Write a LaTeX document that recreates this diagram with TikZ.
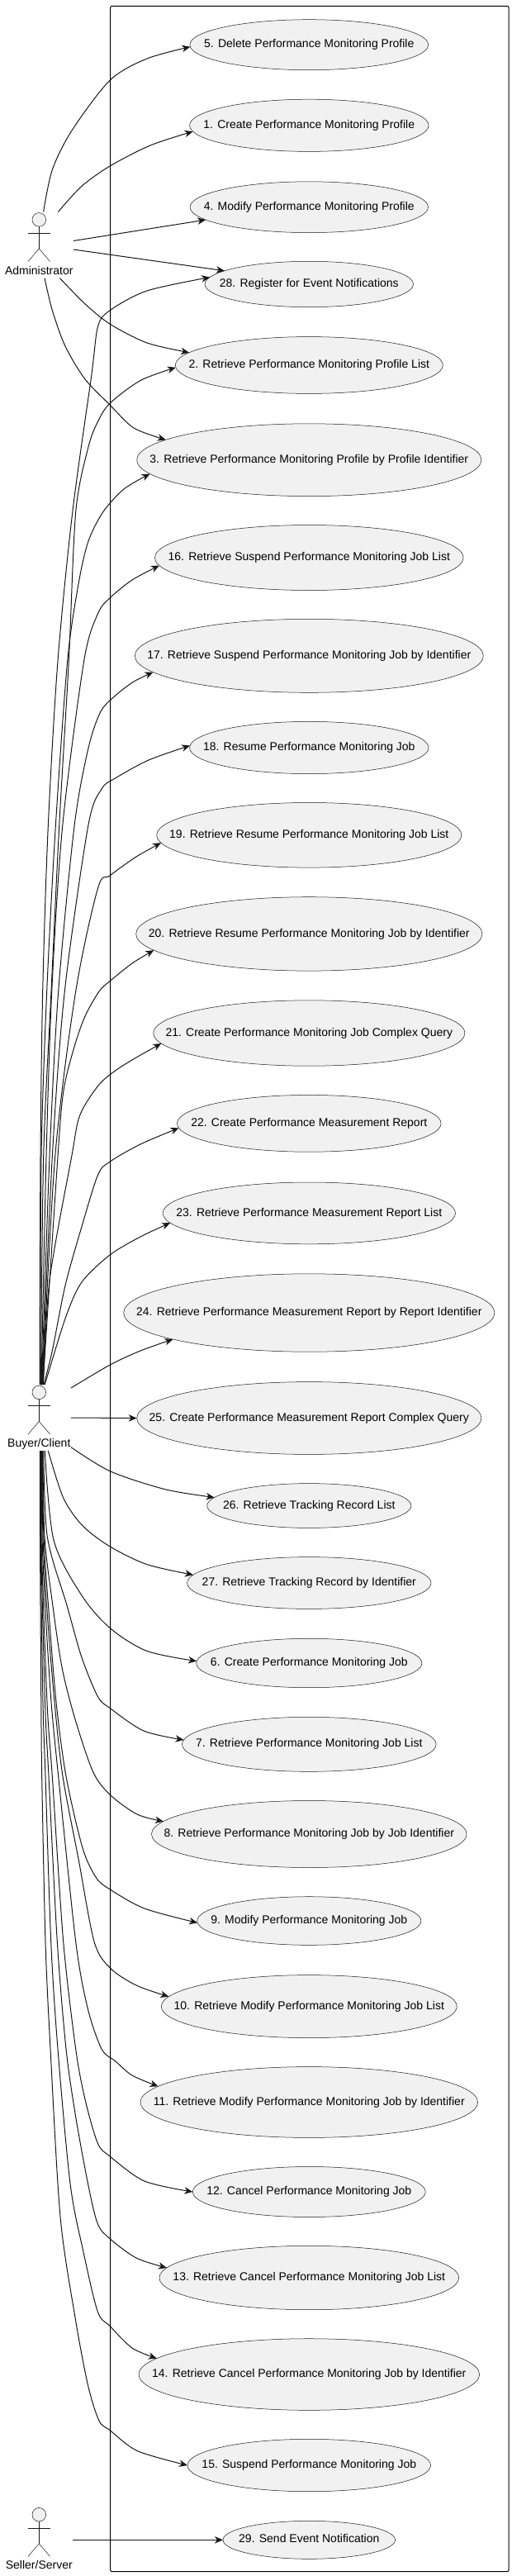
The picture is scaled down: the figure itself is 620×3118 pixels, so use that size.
\documentclass[tikz,border=0pt]{standalone}
\usepackage{fontspec}
\setmainfont{Liberation Sans}[Ligatures=NoCommon]
\usetikzlibrary{shapes.geometric,arrows.meta}
\definecolor{ufill}{HTML}{F1F1F1}
\definecolor{uline}{HTML}{181818}
\tikzset{
  usecase/.style={ellipse,draw=uline,fill=ufill,line width=0.5pt,inner sep=0pt,outer sep=0pt,text=black},
  sysbox/.style={draw=black,line width=1pt,rounded corners=2pt,inner sep=0pt,outer sep=0pt},
  actorbox/.style={inner sep=0pt,outer sep=0pt,minimum height=80pt},
  actorhead/.style={circle,draw=uline,fill=ufill,line width=0.5pt,minimum size=16.6pt,inner sep=0pt,outer sep=0pt},
  actorname/.style={inner sep=0pt,text=black},
  stick/.style={draw=uline,line width=0.5pt},
  conn/.style={draw=uline,line width=1pt,-{Stealth[length=10pt,width=8.5pt,inset=3pt]}},
  curvy/.style={smooth,tension=0.5},
}
\newcommand{\actorfig}[4]{%
  \node[actorbox,minimum width=#4pt] (#1) at (47.3,#3) {};
  \node[actorhead] (#1-head) at ([yshift=30.6pt]#1.center) {};
  \node[actorname] (#1-name) at ([yshift=-32pt]#1.center) {#2\vphantom{Ag}};
  \coordinate (#1-waist) at ([yshift=-4.5pt]#1.center);
  \draw[stick] (#1-head.south) -- (#1-waist);
  \draw[stick] ([xshift=-13.3pt,yshift=14.4pt]#1.center) -- ([xshift=13.3pt,yshift=14.4pt]#1.center);
  \draw[stick] ([xshift=-13.3pt,yshift=-20pt]#1.center) -- (#1-waist) -- ([xshift=13.3pt,yshift=-20pt]#1.center);
}
\begin{document}
\begin{tikzpicture}[x=1pt,y=-1pt,every node/.style={font=\fontsize{14}{16}\selectfont}]
\useasboundingbox (0,0) rectangle (620,3118);
\fill[white] (0,0) rectangle (620,3118);
\node[sysbox,minimum width=482.3pt,minimum height=3105.4pt] (system) at (374.85,1560) {};
\foreach \n/\txt/\rx/\ry/\cy in {
 5/5. Delete Performance Monitoring Profile/144.4/30.5/54.2,
 1/1. Create Performance Monitoring Profile/144.7/31.6/151.8,
 4/4. Modify Performance Monitoring Profile/144.2/30.9/250.7,
 28/28. Register for Event Notifications/126.2/27.7/344,
 2/2. Retrieve Performance Monitoring Profile List/162/34.4/442,
 3/3. Retrieve Performance Monitoring Profile by Profile Identifier/208.6/43.9/556.7,
 16/16. Retrieve Suspend Performance Monitoring Job List/186.8/39.5/675,
 17/17. Retrieve Suspend Performance Monitoring Job by Identifier/211/44.5/793.8,
 18/18. Resume Performance Monitoring Job/144.7/31.6/905,
 19/19. Retrieve Resume Performance Monitoring Job List/184.6/39.3/1010.8,
 20/20. Retrieve Resume Performance Monitoring Job by Identifier/209.6/44.7/1130.4,
 21/21. Create Performance Monitoring Job Complex Query/188.6/39.7/1250.5,
 22/22. Create Performance Measurement Report/159.8/34.4/1359.8,
 23/23. Retrieve Performance Measurement Report List/177.2/37.4/1468.4,
 24/24. Retrieve Performance Measurement Report by Report Identifier/224.6/47.2/1589,
 25/25. Create Performance Measurement Report Complex Query/208.6/43.9/1716.5,
 26/26. Retrieve Tracking Record List/123.6/26.9/1822.5,
 27/27. Retrieve Tracking Record by Identifier/147.7/31.4/1916,
 6/6. Create Performance Monitoring Job/136.6/29.7/2013,
 7/7. Retrieve Performance Monitoring Job List/153.8/33/2111.3,
 8/8. Retrieve Performance Monitoring Job by Job Identifier/190.8/40.5/2220,
 9/9. Modify Performance Monitoring Job/135.6/29.3/2325,
 10/10. Retrieve Modify Performance Monitoring Job List/179/38/2428.6,
 11/11. Retrieve Modify Performance Monitoring Job by Identifier/204.3/42.9/2544.5,
 12/12. Cancel Performance Monitoring Job/141/30.5/2653,
 13/13. Retrieve Cancel Performance Monitoring Job List/181.4/38.7/2757,
 14/14. Retrieve Cancel Performance Monitoring Job by Identifier/206.3/43.3/2874,
 15/15. Suspend Performance Monitoring Job/147.3/31.7/2984,
 29/29. Send Event Notification/104.3/23/3074.3}{
  \node[usecase,minimum width={2*\rx*1pt},minimum height={2*\ry*1pt}] (e\n) at (374.3,\cy) {\makebox[0pt]{\txt\vphantom{Ag}}};
}
\actorfig{admin}{Administrator}{296.5}{83.4}
\actorfig{buyer}{Buyer/Client}{1716}{77.4}
\actorfig{seller}{Seller/Server}{3074.3}{81.4}
% Administrator
\draw[conn] plot[curvy] coordinates {([xshift=5.3pt]admin.north) (63.3,205.6) (87,158) (133.3,97) (178,71) (e5.181.7)};
\draw[conn] plot[curvy] coordinates {([xshift=23.1pt]admin.north) (98.9,225.4) (133.3,200.9) (182,176) (e1.183.9)};
\draw[conn] ([yshift=5pt]admin.east) -- (e4.187.8);
\draw[conn] ([yshift=-5.5pt]admin.east) -- (e28.171.9);
\draw[conn] plot[curvy] coordinates {([xshift=25pt]admin.south) (102.8,367.7) (133.3,392.3) (178,415) (e2.174.5)};
\draw[conn] plot[curvy] coordinates {([xshift=6.7pt]admin.south) (63.3,375.6) (79,419) (102.8,458.7) (133.3,490.3) (162,518) (e3.172.7)};
% Buyer, upwards
\draw[conn] plot[curvy] coordinates {([xshift=0.7pt]buyer.north) (49,1400) (51.7,1200) (58.3,1000) (70,800) (87.8,620) (110.7,455) (118.6,395) (133.3,375.6) (178,352) (e28.176.7)};
\draw[conn] plot[curvy] coordinates {([xshift=2.2pt]buyer.north) (52.7,1400) (62,1200) (71.7,1000) (83.3,800) (91.7,620) (106.8,541.7) (118.6,510) (133.3,488) (170,460.6) (e2.181)};
\draw[conn] plot[curvy] coordinates {([xshift=1.5pt]buyer.north) (50,1400) (56.7,1200) (67.3,1000) (81.7,800) (95,707) (106.8,655.6) (124.6,620) (150,592) (e3.185.6)};
\draw[conn] plot[curvy] coordinates {([xshift=2.7pt]buyer.north) (56,1400) (62.7,1200) (75.7,1000) (101.7,800) (118.6,742.6) (133.3,723.6) (160,702) (e16.183.65)};
\draw[conn] plot[curvy] coordinates {([xshift=3.2pt]buyer.north) (60,1400) (70.7,1200) (90,1000) (106.7,906.7) (121.7,861.7) (140,841.7) (162,825) (e17.186)};
\draw[conn] plot[curvy] coordinates {([xshift=3.7pt]buyer.north) (63.3,1400) (78.3,1200) (106.7,1000) (123,955) (140,941.7) (180,920) (e18.179.4)};
\draw[conn] plot[curvy] coordinates {([xshift=4.2pt]buyer.north) (66.7,1400) (91.7,1200) (118.6,1074.7) (133.3,1059.7) (165,1037) (e19.183.8)};
\draw[conn] plot[curvy] coordinates {([xshift=4.7pt]buyer.north) (70,1400) (77,1320) (90,1267) (103,1230) (120,1200) (133.3,1187.4) (160,1166) (e20.186.2)};
\draw[conn] plot[curvy] coordinates {([xshift=5.2pt]buyer.north) (60,1550) (86.7,1400) (96.7,1350) (119,1314) (140,1295.7) (165,1280) (e21.184.5)};
\draw[conn] plot[curvy] coordinates {([xshift=5.7pt]buyer.north) (63.3,1635) (79,1556) (98.9,1485) (118.6,1422) (133.3,1406) (170,1385) (e22.182.1)};
\draw[conn] plot[curvy] coordinates {([xshift=7pt]buyer.north) (79,1596) (98.9,1552) (133.3,1518.8) (170,1497) (e23.184.7)};
\draw[conn] plot[curvy] coordinates {([yshift=36pt]buyer.east) (133.3,1652) (170,1635) (e24.191)};
\draw[conn] (buyer.east) -- (e25.west);
\draw[conn] plot[curvy] coordinates {([yshift=-35.7pt]buyer.east) (133.3,1780.7) (200,1802.7) (e26.175.5)};
% Buyer, downwards
\draw[conn] plot[curvy] coordinates {([xshift=11pt]buyer.south) (76.7,1813) (100,1846.7) (133.3,1872) (178,1893.6) (e27.176.9)};
\draw[conn] plot[curvy] coordinates {([xshift=7pt]buyer.south) (65,1864) (98.9,1931) (133.3,1970.7) (178,1998.4) (e6.179.7)};
\draw[conn] plot[curvy] coordinates {([xshift=5.5pt]buyer.south) (57.3,1860) (81,1943) (98.9,2006) (118.6,2053.8) (133.3,2067.6) (174,2095) (e7.178.8)};
\draw[conn] plot[curvy] coordinates {([xshift=4.5pt]buyer.south) (54,1860) (63.3,1939) (75,2018) (91,2081) (112.7,2144.7) (133.3,2172.4) (166,2196) (e8.175.2)};
\draw[conn] plot[curvy] coordinates {([xshift=4pt]buyer.south) (53,1860) (59,1950) (68,2060) (80,2150) (100,2236.7) (116.7,2273) (133.3,2287) (175,2310) (e9.181.5)};
\draw[conn] plot[curvy] coordinates {([xshift=3.5pt]buyer.south) (52,1860) (57,1950) (66,2060) (76,2150) (95,2250) (114,2350) (133.3,2382) (165,2403) (e10.176.3)};
\draw[conn] plot[curvy] coordinates {([xshift=3pt]buyer.south) (51,1860) (55,1950) (62,2060) (70.7,2150) (91.7,2350) (106,2430) (123,2480) (140,2495) (160,2512) (e11.174.3)};
\draw[conn] plot[curvy] coordinates {([xshift=2.5pt]buyer.south) (50,1860) (57,2060) (63.3,2150) (76.7,2350) (91.7,2480) (103,2541) (118.3,2594) (133.3,2610.2) (175,2640) (e12.180.8)};
\draw[conn] plot[curvy] coordinates {([xshift=2pt]buyer.south) (49.5,1860) (54.5,2060) (59,2150) (69.3,2350) (80,2480) (91.5,2561) (106.5,2643) (118.3,2691.6) (133.3,2709.9) (165,2733) (e13.176.6)};
\draw[conn] plot[curvy] coordinates {([xshift=1.5pt]buyer.south) (49,1860) (52,2060) (55,2150) (61.7,2350) (70,2480) (85,2643) (100.6,2724) (118.3,2798) (133.3,2815.6) (160,2842) (e14.174.6)};
\draw[conn] plot[curvy] coordinates {([xshift=1pt]buyer.south) (48.5,1860) (49.8,2060) (50.7,2150) (55,2350) (61,2480) (73,2683) (91,2805) (106.5,2887) (120,2930) (133.3,2941.7) (166.7,2966.7) (e15.180.4)};
% Seller
\draw[conn] (seller.east) -- (e29.west);
\end{tikzpicture}
\end{document}
